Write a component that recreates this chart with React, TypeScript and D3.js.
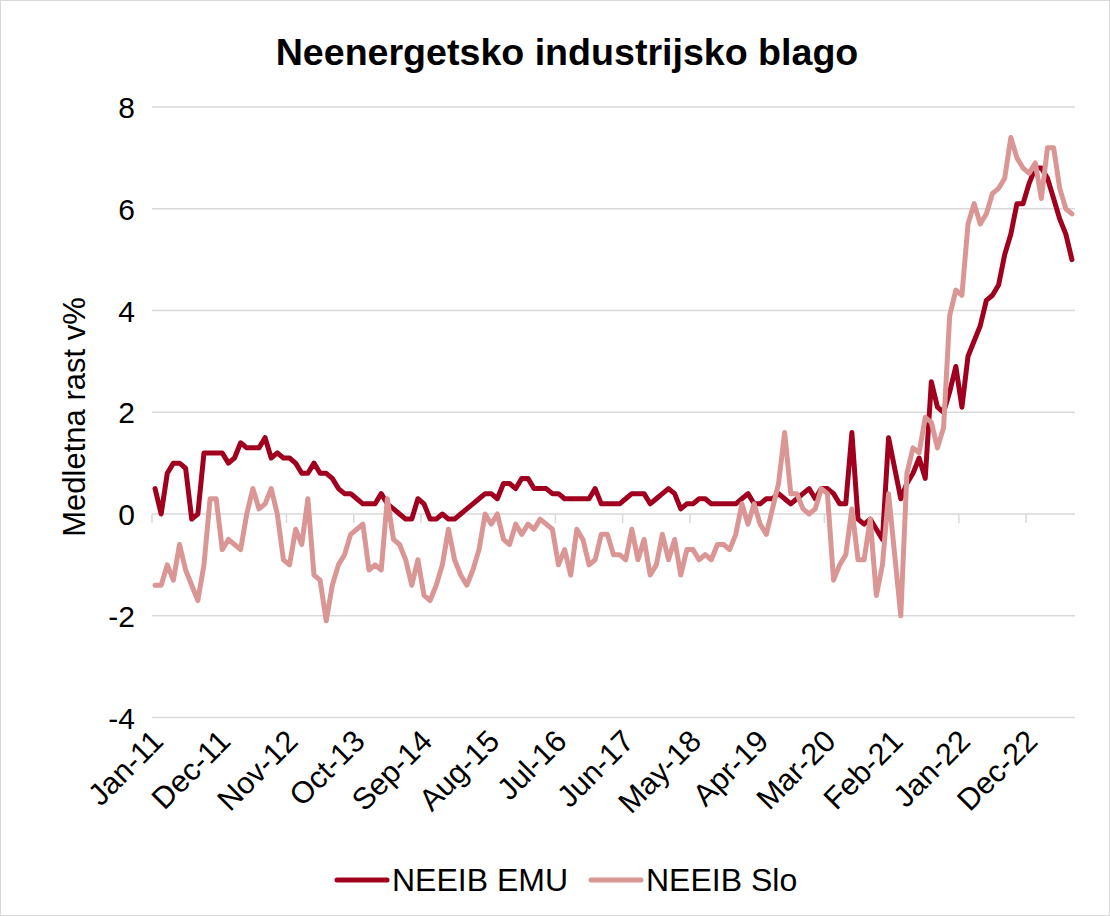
import React from "react";
import * as d3 from "d3";

const monthNames = ["Jan", "Feb", "Mar", "Apr", "May", "Jun", "Jul", "Aug", "Sep", "Oct", "Nov", "Dec"];
const startYear = 2011;
const monthCount = 151; // Jan-11 .. Jul-23

const categories: string[] = [];
for (let k = 0; k < monthCount; k++) {
  const m = k % 12;
  const yy = (startYear + Math.floor(k / 12)) % 100;
  categories.push(`${monthNames[m]}-${String(yy).padStart(2, "0")}`);
}

const tickLabels = ["Jan-11", "Dec-11", "Nov-12", "Oct-13", "Sep-14", "Aug-15", "Jul-16", "Jun-17", "May-18", "Apr-19", "Mar-20", "Feb-21", "Jan-22", "Dec-22"];
const yTicks = [-4, -2, 0, 2, 4, 6, 8];

const emu = [
  0.5, 0.0, 0.8, 1.0, 1.0, 0.9, -0.1, 0.0, 1.2, 1.2, 1.2, 1.2, 1.0, 1.1, 1.4, 1.3, 1.3, 1.3, 1.5, 1.1,
  1.2, 1.1, 1.1, 1.0, 0.8, 0.8, 1.0, 0.8, 0.8, 0.7, 0.5, 0.4, 0.4, 0.3, 0.2, 0.2, 0.2, 0.4, 0.2, 0.1,
  0.0, -0.1, -0.1, 0.3, 0.2, -0.1, -0.1, 0.0, -0.1, -0.1, 0.0, 0.1, 0.2, 0.3, 0.4, 0.4, 0.3, 0.6, 0.6, 0.5,
  0.7, 0.7, 0.5, 0.5, 0.5, 0.4, 0.4, 0.3, 0.3, 0.3, 0.3, 0.3, 0.5, 0.2, 0.2, 0.2, 0.2, 0.3, 0.4, 0.4,
  0.4, 0.2, 0.3, 0.4, 0.5, 0.4, 0.1, 0.2, 0.2, 0.3, 0.3, 0.2, 0.2, 0.2, 0.2, 0.2, 0.3, 0.4, 0.2, 0.2,
  0.3, 0.3, 0.4, 0.3, 0.2, 0.3, 0.4, 0.5, 0.3, 0.5, 0.5, 0.4, 0.2, 0.2, 1.6, -0.1, -0.2, -0.1, -0.3, -0.5,
  1.5, 0.9, 0.3, 0.6, 0.8, 1.1, 0.7, 2.6, 2.1, 2.0, 2.4, 2.9, 2.1, 3.1, 3.4, 3.7, 4.2, 4.3, 4.5, 5.1,
  5.5, 6.1, 6.1, 6.5, 6.8, 6.8, 6.6, 6.2, 5.8, 5.5, 5.0,
];

const slo = [
  -1.4, -1.4, -1.0, -1.3, -0.6, -1.1, -1.4, -1.7, -1.0, 0.3, 0.3, -0.7, -0.5, -0.6, -0.7, 0.0, 0.5, 0.1, 0.2, 0.5,
  0.0, -0.9, -1.0, -0.3, -0.6, 0.3, -1.2, -1.3, -2.1, -1.4, -1.0, -0.8, -0.4, -0.3, -0.2, -1.1, -1.0, -1.1, 0.3, -0.5,
  -0.6, -0.9, -1.4, -0.9, -1.6, -1.7, -1.4, -1.0, -0.3, -0.9, -1.2, -1.4, -1.1, -0.7, 0.0, -0.2, 0.0, -0.5, -0.6, -0.2,
  -0.4, -0.2, -0.3, -0.1, -0.2, -0.3, -1.0, -0.7, -1.2, -0.3, -0.5, -1.0, -0.9, -0.4, -0.4, -0.8, -0.8, -0.9, -0.3, -0.9,
  -0.5, -1.2, -1.0, -0.4, -0.9, -0.5, -1.2, -0.7, -0.7, -0.9, -0.8, -0.9, -0.6, -0.6, -0.7, -0.4, 0.2, -0.2, 0.2, -0.2,
  -0.4, 0.1, 0.6, 1.6, 0.4, 0.4, 0.1, 0.0, 0.1, 0.5, 0.4, -1.3, -1.0, -0.8, 0.1, -0.9, -0.9, -0.1, -1.6, -1.0,
  0.4, -0.8, -2.0, 0.8, 1.3, 1.2, 1.9, 1.8, 1.3, 1.7, 3.9, 4.4, 4.3, 5.7, 6.1, 5.7, 5.9, 6.3, 6.4, 6.6,
  7.4, 7.0, 6.8, 6.7, 6.9, 6.2, 7.2, 7.2, 6.4, 6.0, 5.9,
];

const seriesNames = ["NEEIB EMU", "NEEIB Slo"];
const seriesColors = ["#A0001E", "#DA9694"];

const W = 1110;
const H = 916;
const FONT = "'Liberation Sans', Arial, Helvetica, sans-serif";

export default function App() {
  const x = d3.scaleBand<string>().domain(categories).range([152, 1075]).padding(0);
  const y = d3.scaleLinear().domain([-4, 8]).range([717.5, 107]);
  const cx = (c: string) => (x(c) as number) + x.bandwidth() / 2;

  const line = d3
    .line<number>()
    .x((_, i) => cx(categories[i]))
    .y((d) => y(d));

  const series = [emu, slo];

  return (
    <svg
      width={W}
      height={H}
      style={{ position: "absolute", left: 0, top: 0, display: "block", background: "#fff" }}
      fontFamily={FONT}
    >
      <rect x={0.5} y={0.5} width={W - 1} height={H - 1} fill="#fff" stroke="#d9d9d9" strokeWidth={1} />
      <text x={567} y={65} textAnchor="middle" fontSize={37.6} fontWeight="bold" fill="#000">
        Neenergetsko industrijsko blago
      </text>

      {yTicks.map((t) => (
        <g key={t}>
          <line x1={152} x2={1075} y1={y(t)} y2={y(t)} stroke="#d9d9d9" strokeWidth={1.5} />
          <text x={135} y={y(t) + 11} textAnchor="end" fontSize={30} fill="#000">
            {t}
          </text>
        </g>
      ))}

      {tickLabels.map((lab) => (
        <line
          key={"tk" + lab}
          x1={x(lab) as number}
          x2={x(lab) as number}
          y1={y(0)}
          y2={y(0) + 9}
          stroke="#d9d9d9"
          strokeWidth={1.5}
        />
      ))}

      {tickLabels.map((lab) => (
        <text
          key={"lb" + lab}
          transform={`translate(${cx(lab) + 10},${743}) rotate(-45)`}
          textAnchor="end"
          fontSize={30.5}
          fill="#000"
        >
          {lab}
        </text>
      ))}

      <text transform={`translate(85,417) rotate(-90)`} textAnchor="middle" fontSize={31} fill="#000">
        Medletna rast v%
      </text>

      {series.map((s, k) => (
        <path
          key={seriesNames[k]}
          d={line(s) || ""}
          fill="none"
          stroke={seriesColors[k]}
          strokeWidth={5}
          strokeLinejoin="round"
          strokeLinecap="round"
        />
      ))}

      {seriesNames.map((nm, k) => {
        const lx = k === 0 ? 337 : 591;
        return (
          <g key={"lg" + nm}>
            <line x1={lx} x2={lx + 50} y1={880} y2={880} stroke={seriesColors[k]} strokeWidth={5} strokeLinecap="round" />
            <text x={lx + 55} y={891} fontSize={32} fill="#000">
              {nm}
            </text>
          </g>
        );
      })}
    </svg>
  );
}
